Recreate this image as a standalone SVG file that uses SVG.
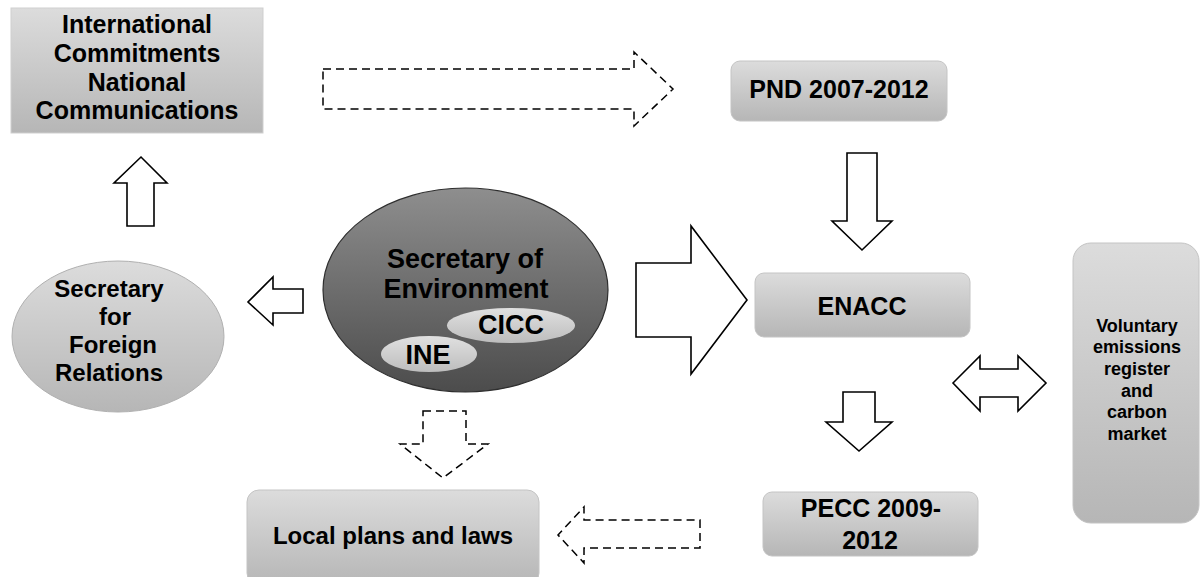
<svg xmlns="http://www.w3.org/2000/svg" width="1201" height="577" viewBox="0 0 1201 577">
  <defs>
    <linearGradient id="gBox" x1="0" y1="0" x2="0" y2="1">
      <stop offset="0" stop-color="#dcdcdc"/>
      <stop offset="1" stop-color="#b6b6b6"/>
    </linearGradient>
    <linearGradient id="gDark" x1="0" y1="0" x2="0" y2="1">
      <stop offset="0" stop-color="#8e8e8e"/>
      <stop offset="1" stop-color="#4c4c4c"/>
    </linearGradient>
    <linearGradient id="gSmall" x1="0" y1="0" x2="0" y2="1">
      <stop offset="0" stop-color="#e0e0e0"/>
      <stop offset="1" stop-color="#bdbdbd"/>
    </linearGradient>
  </defs>
  <style>
    .box { fill: url(#gBox); stroke: #c4c4c4; stroke-width: 1; }
    .lbl { font-family: "Liberation Sans", Arial, sans-serif; font-weight: bold; fill: #000; text-anchor: middle; }
    .big { font-size: 25px; }
    .ell { font-size: 27px; }
    .sre { font-size: 24px; }
    .sml { font-size: 18px; }
    .arrow { fill: #fff; stroke: #000; stroke-width: 1.6; stroke-linejoin: miter; }
    .dash { fill: #fff; stroke: #000; stroke-width: 1.5; stroke-dasharray: 8 5; }
  </style>

  <rect width="1201" height="577" fill="#fff"/>

  <!-- connectors -->
  <g id="connectors">
    <polygon class="dash" points="323,69 634,69 634,52 673,89 634,126 634,109 323,109"/>
    <polygon class="arrow" points="847,153 877,153 877,221 892,221 862,250 832,221 847,221"/>
    <polygon class="arrow" points="636,263 691,263 691,226 747,300 691,374 691,337 636,337"/>
    <polygon class="arrow" points="303,289 273,289 273,277 248,302 273,325 273,313 303,313"/>
    <polygon class="arrow" points="127,226 127,183 114,183 141,157 167,183 154,183 154,226"/>
    <polygon class="arrow" points="953,383 980,356 980,369 1018,369 1018,356 1046,383 1018,411 1018,397 980,397 980,411"/>
    <polygon class="arrow" points="843,392 875,392 875,422 892,422 859,451 826,422 843,422"/>
    <polygon class="dash" points="423,411 466,411 466,444 488,444 443,478 400,444 423,444"/>
    <polygon class="dash" points="700,520 700,548 584,548 584,563 558,535 584,507 584,520"/>
  </g>

  <!-- nodes -->
  <g id="intl">
    <rect x="11" y="8" width="252" height="125" fill="url(#gBox)" stroke="#cfcfcf"/>
    <text class="lbl big" x="137" y="33">International</text>
    <text class="lbl big" x="137" y="62">Commitments</text>
    <text class="lbl big" x="137" y="91">National</text>
    <text class="lbl big" x="137" y="119">Communications</text>
  </g>

  <g id="pnd">
    <rect class="box" x="731" y="61" width="216" height="60" rx="9"/>
    <text class="lbl big" x="839" y="98">PND 2007-2012</text>
  </g>

  <g id="enacc">
    <rect class="box" x="755" y="273" width="215" height="64" rx="9"/>
    <text class="lbl big" x="862" y="315">ENACC</text>
  </g>

  <g id="semarnat">
    <ellipse cx="465.5" cy="290" rx="142.5" ry="102" fill="url(#gDark)" stroke="#2e2e2e" stroke-width="1.2"/>
    <text class="lbl ell" x="465" y="268">Secretary of</text>
    <text class="lbl ell" x="466" y="298">Environment</text>
    <g id="cicc">
      <ellipse cx="511" cy="325.5" rx="64" ry="17.5" fill="url(#gSmall)"/>
      <text class="lbl ell" x="511" y="334">CICC</text>
    </g>
    <g id="ine">
      <ellipse cx="429" cy="354" rx="48" ry="18" fill="url(#gSmall)"/>
      <text class="lbl ell" x="428" y="364">INE</text>
    </g>
  </g>

  <g id="sre">
    <ellipse cx="118" cy="336.5" rx="106" ry="75.5" fill="url(#gBox)" stroke="#b0b0b0"/>
    <text class="lbl sre" x="109" y="297">Secretary</text>
    <text class="lbl sre" x="115" y="325">for</text>
    <text class="lbl sre" x="113" y="353">Foreign</text>
    <text class="lbl sre" x="109" y="381">Relations</text>
  </g>

  <g id="voluntary">
    <rect class="box" x="1073" y="243" width="126" height="280" rx="18"/>
    <text class="lbl sml" x="1137" y="332">Voluntary</text>
    <text class="lbl sml" x="1137" y="353">emissions</text>
    <text class="lbl sml" x="1137" y="375">register</text>
    <text class="lbl sml" x="1137" y="397">and</text>
    <text class="lbl sml" x="1137" y="418">carbon</text>
    <text class="lbl sml" x="1137" y="440">market</text>
  </g>

  <g id="local">
    <rect class="box" x="247" y="490" width="292" height="95" rx="12"/>
    <text class="lbl" style="font-size:24px" x="393" y="544">Local plans and laws</text>
  </g>

  <g id="pecc">
    <rect class="box" x="763" y="492" width="215" height="64" rx="9"/>
    <text class="lbl big" x="871" y="517">PECC 2009-</text>
    <text class="lbl big" x="870" y="549">2012</text>
  </g>
</svg>
